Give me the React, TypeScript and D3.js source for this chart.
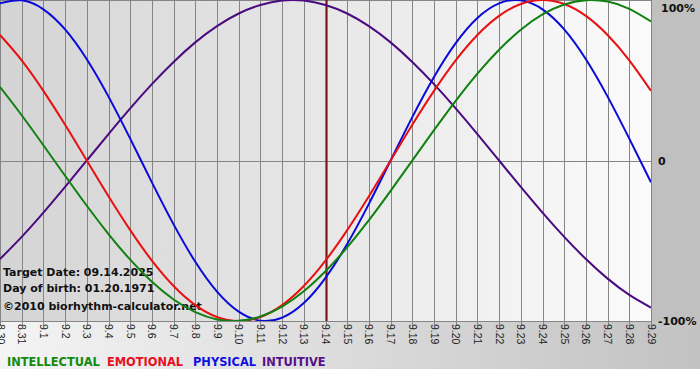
import React from "react";
import * as d3 from "d3";

const dayLabels = [
  "8.30", "8.31", "9.1", "9.2", "9.3", "9.4", "9.5", "9.6", "9.7", "9.8", "9.9",
  "9.10", "9.11", "9.12", "9.13", "9.14", "9.15", "9.16", "9.17", "9.18", "9.19",
  "9.20", "9.21", "9.22", "9.23", "9.24", "9.25", "9.26", "9.27", "9.28", "9.29",
];

const physical = [
  0.979, 0.998, 0.942, 0.817, 0.631, 0.398, 0.136, -0.136, -0.398, -0.631, -0.817,
  -0.942, -0.998, -0.979, -0.888, -0.731, -0.52, -0.27, 0, 0.27, 0.52,
  0.731, 0.888, 0.979, 0.998, 0.942, 0.817, 0.631, 0.398, 0.136, -0.136,
];
const emotional = [
  0.782, 0.624, 0.434, 0.223, 0, -0.223, -0.434, -0.624, -0.782, -0.901, -0.975,
  -1, -0.975, -0.901, -0.782, -0.624, -0.434, -0.223, 0, 0.223, 0.434,
  0.624, 0.782, 0.901, 0.975, 1, 0.975, 0.901, 0.782, 0.624, 0.434,
];
const intellectual = [
  0.458, 0.282, 0.095, -0.095, -0.282, -0.458, -0.618, -0.756, -0.866, -0.945, -0.99,
  -0.999, -0.972, -0.91, -0.815, -0.69, -0.541, -0.372, -0.189, 0, 0.189,
  0.372, 0.541, 0.69, 0.815, 0.91, 0.972, 0.999, 0.99, 0.945, 0.866,
];
const intuitive = [
  -0.614, -0.476, -0.325, -0.165, 0, 0.165, 0.325, 0.476, 0.614, 0.736, 0.837,
  0.916, 0.969, 0.997, 0.997, 0.969, 0.916, 0.837, 0.736, 0.614, 0.476,
  0.325, 0.165, 0, -0.165, -0.325, -0.476, -0.614, -0.736, -0.837, -0.916,
];

const seriesNames = ["INTUITIVE", "PHYSICAL", "EMOTIONAL", "INTELLECTUAL"];
const seriesData = [intuitive, physical, emotional, intellectual];
const seriesColors = ["#4a0a80", "#0a0ad8", "#e81010", "#108010"];

const legendNames = ["INTELLECTUAL", "EMOTIONAL", "PHYSICAL", "INTUITIVE"];
const legendColors = ["#108a10", "#e81020", "#1010e0", "#55108a"];
const legendX = [7, 107, 193, 262];

const yTickLabels = ["100%", "0", "-100%"];

const targetIndex = 15;
const infoLines = ["Target Date: 09.14.2025", "Day of birth: 01.20.1971", "\u00a92010 biorhythm-calculator.net"];

const W = 700;
const H = 380;
const plotRight = 651;
const plotBottom = 321;

export default function App() {
  const x = d3.scaleLinear().domain([0, dayLabels.length - 1]).range([0, plotRight]);
  const y = d3.scaleLinear().domain([-1, 1]).range([plotBottom, 0]);
  const line = d3
    .line<number>()
    .x((_, i) => x(i))
    .y((d) => y(d))
    .curve(d3.curveNatural);

  return (
    <svg
      width={W}
      height={H}
      style={{ position: "absolute", left: 0, top: 0, display: "block" }}
      fontFamily="'DejaVu Sans', Verdana, sans-serif"
    >
      <defs>
        <linearGradient id="plotBg" x1="0" x2="1" y1="0" y2="0">
          <stop offset="0" stopColor="#d4d4d4" />
          <stop offset="1" stopColor="#fbfbfb" />
        </linearGradient>
        <linearGradient id="stripBg" x1="0" x2="1" y1="0" y2="0">
          <stop offset="0" stopColor="#f4f4f4" />
          <stop offset="1" stopColor="#c2c2c2" />
        </linearGradient>
        <clipPath id="plotClip">
          <rect x={0} y={0} width={plotRight} height={plotBottom} />
        </clipPath>
      </defs>
      <rect x={0} y={0} width={W} height={H} fill="#ffffff" />
      <rect x={0} y={plotBottom} width={W} height={369 - plotBottom} fill="url(#stripBg)" />
      <rect x={plotRight} y={0} width={W - plotRight} height={plotBottom} fill="#c0c0c0" />
      <rect x={0} y={0} width={plotRight} height={plotBottom} fill="url(#plotBg)" />

      {dayLabels.map((_, i) => (
        <line
          key={"g" + i}
          x1={Math.round(x(i)) + 0.5}
          x2={Math.round(x(i)) + 0.5}
          y1={0}
          y2={plotBottom + 4}
          stroke="#858585"
          strokeWidth={1}
        />
      ))}
      <line x1={0} x2={plotRight} y1={0.5} y2={0.5} stroke="#858585" />
      <line x1={0} x2={plotRight} y1={Math.round(y(0)) + 0.5} y2={Math.round(y(0)) + 0.5} stroke="#858585" />
      <line x1={0} x2={plotRight} y1={plotBottom + 0.5} y2={plotBottom + 0.5} stroke="#858585" />

      <line
        x1={Math.round(x(targetIndex)) + 0.5}
        x2={Math.round(x(targetIndex)) + 0.5}
        y1={0}
        y2={plotBottom}
        stroke="#7a1818"
        strokeWidth={2.2}
      />

      {infoLines.map((t, i) => (
        <text
          key={"info" + i}
          x={3}
          y={[276, 292, 310][i]}
          fontSize={11}
          fontWeight="bold"
          fill="#111"
        >
          {t}
        </text>
      ))}

      <g clipPath="url(#plotClip)">
        {seriesData.map((s, k) => (
          <path
            key={seriesNames[k]}
            d={line(s) || ""}
            fill="none"
            stroke={seriesColors[k]}
            strokeWidth={2}
          />
        ))}
      </g>

      {dayLabels.map((lab, i) => (
        <text
          key={"xl" + i}
          transform={`translate(${x(i) + 0.5},${plotBottom + 3}) rotate(90)`}
          fontSize={10.5}
          fontFamily="'Liberation Sans', Arial, sans-serif"
          dominantBaseline="central"
          fill="#222"
        >
          {lab}
        </text>
      ))}

      {yTickLabels.map((lab, i) => (
        <text
          key={"yl" + i}
          x={[661, 658, 658][i]}
          y={[12, 165, 325][i]}
          fontSize={11}
          fontWeight="bold"
          fill="#111"
        >
          {lab}
        </text>
      ))}

      {legendNames.map((n, i) => (
        <text
          key={"lg" + n}
          x={legendX[i]}
          y={366}
          fontSize={11.4}
          fontWeight="bold"
          fill={legendColors[i]}
        >
          {n}
        </text>
      ))}
    </svg>
  );
}
